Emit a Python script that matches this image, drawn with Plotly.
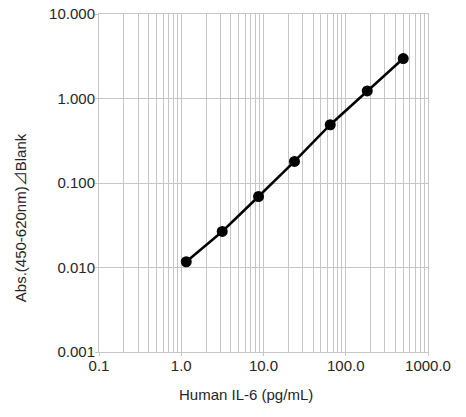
import plotly.graph_objects as go

conc = [1.15, 3.15, 8.7, 23.8, 64.8, 182.6, 500.0]
absorb = [0.0117, 0.0267, 0.0692, 0.180, 0.489, 1.23, 2.97]

x_ticks = [0.1, 1, 10, 100, 1000]
x_labels = ["0.1", "1.0", "10.0", "100.0", "1000.0"]
y_ticks = [0.001, 0.01, 0.1, 1, 10]
y_labels = ["0.001", "0.010", "0.100", "1.000", "10.000"]

x_title = "Human IL-6 (pg/mL)"
y_title = "Abs.(450-620nm)⊿Blank"

font = "Liberation Sans, Arial, sans-serif"
title_font = "Liberation Sans, Noto Sans CJK JP, sans-serif"
grid = "#c6c6c6"
txt = "#262626"

fig = go.Figure(go.Scatter(
    x=conc, y=absorb, mode="lines+markers",
    line=dict(color="black", width=2.5),
    marker=dict(color="black", size=11),
    cliponaxis=False,
))

fig.update_layout(
    width=466, height=417,
    margin=dict(l=99, r=38, t=14, b=65),
    paper_bgcolor="white", plot_bgcolor="white",
    showlegend=False,
    font=dict(family=font, size=15, color=txt),
)
fig.update_xaxes(
    type="log", range=[-1, 3], automargin=False,
    tickvals=x_ticks, ticktext=x_labels,
    showgrid=True, gridcolor=grid, gridwidth=1,
    minor=dict(tickvals=[v * k for v in [0.1, 1, 10, 100] for k in range(2, 10)],
               showgrid=True, gridcolor=grid, gridwidth=1, ticks=""),
    showline=True, linecolor=grid, linewidth=1, mirror=True,
    ticks="outside", ticklen=3, tickcolor=grid,
    ticklabelstandoff=-3, ticklabeloverflow="allow",
    zeroline=False,
)
fig.update_yaxes(
    type="log", range=[-3, 1], automargin=False,
    tickvals=y_ticks, ticktext=y_labels,
    showgrid=True, gridcolor=grid, gridwidth=1,
    showline=True, linecolor=grid, linewidth=1, mirror=True,
    ticks="outside", ticklen=3, tickcolor=grid,
    ticklabelstandoff=-3, ticklabeloverflow="allow",
    zeroline=False,
)
fig.add_annotation(text=x_title, xref="paper", yref="paper", x=0.448, y=-0.127,
                   showarrow=False, xanchor="center", yanchor="middle",
                   font=dict(size=15, color=txt))
fig.add_annotation(text=y_title, xref="paper", yref="paper", x=-0.240, y=0.396,
                   showarrow=False, xanchor="center", yanchor="middle", textangle=-90,
                   font=dict(family=title_font, size=15, color=txt))

fig.write_html("out.html", config={"displayModeBar": False},
               post_script="document.body.style.margin='0';")
